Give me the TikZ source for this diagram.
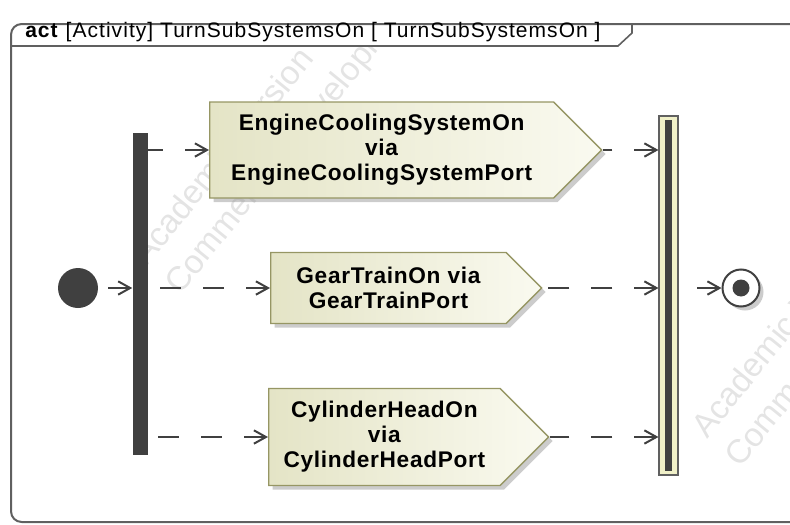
\documentclass[tikz,border=0pt]{standalone}
\usepackage{fontspec}
\setmainfont{Liberation Sans}
\newfontfamily\headfont{Liberation Sans}[LetterSpace=5]
\newfontfamily\actfont{Liberation Sans}[LetterSpace=3]
\definecolor{umlink}{RGB}{64,64,64}
\definecolor{umlframe}{RGB}{96,96,96}
\definecolor{umlolive}{RGB}{150,150,100}
\definecolor{umlbeige}{RGB}{228,228,198}
\definecolor{umlpale}{RGB}{250,250,240}
\definecolor{umlbar}{RGB}{240,240,200}
\definecolor{umlwater}{RGB}{228,228,228}
\usetikzlibrary{arrows.meta,shapes.symbols,shadows,calc}

\begin{document}
\begin{tikzpicture}[x=0.75pt,y=-0.75pt,
  sendsig/.style={signal,signal to=east,signal from=nowhere,signal pointer angle=90,
    draw=umlolive,line width=1pt,left color=umlbeige,right color=umlpale,
    drop shadow={shadow xshift=3pt,shadow yshift=-3pt,fill=black!40,opacity=.5},
    align=center,font=\actfont\bfseries\fontsize{17}{18.75}\selectfont,inner sep=0pt},
  flow/.style={draw=umlink,line width=1.5pt,dash pattern=on 15.75pt off 16.5pt,
    {Straight Barb[length=9pt,width=10pt]}-},
  watermark/.style={text=umlwater,font=\fontsize{25}{28}\selectfont,rotate=51,
    inner sep=0pt,anchor=base west}
]
  \useasboundingbox (0,0) rectangle (790,525);
  % tool watermark, kept inside the frame body
  \begin{scope}
    \clip (11,46) rectangle (790,522);
    \node[watermark] (wmla) at (147,267) {Academic Version};
    \node[watermark] (wmlb) at (180,296) {Commercial Development};
    \node[watermark] (wmra) at (707,440) {Academic Version};
    \node[watermark] (wmrb) at (740,469) {Commercial Development};
  \end{scope}

  % frame with name tab
  \draw[umlframe,line width=1.5pt,rounded corners=8pt] (805,24) -- (11,24) -- (11,522) -- (805,522);
  \draw[umlframe,line width=1.2pt] (11,46) -- (618,46) -- (632,33) -- (632,24);
  \node[anchor=base west,inner sep=0pt,font=\headfont\fontsize{15.75}{18}\selectfont] (title) at (25,37)
    {\textbf{act} [Activity] TurnSubSystemsOn [ TurnSubSystemsOn ]};

  % control nodes
  \node[circle,fill=umlink,minimum size=30pt,inner sep=0pt] (init) at (78,288) {};
  \node[fill=umlink,minimum width=11.25pt,minimum height=241.5pt,inner sep=0pt] (fork) at (140,294) {};
  \node[draw=umlframe,line width=.8pt,fill=umlbar,minimum width=14.25pt,minimum height=269.25pt,
    inner sep=0pt] (join) at (668.5,295.5) {};
  \node[fill=umlink,minimum width=5.25pt,minimum height=263.25pt,inner sep=0pt] (joincore) at (join.center) {};
  \node[circle,draw=umlink,line width=1.5pt,fill=white,minimum size=27.75pt,inner sep=0pt,
    drop shadow={shadow xshift=3pt,shadow yshift=-3pt,fill=black!40,opacity=.5}] (final) at (741,288) {};
  \node[circle,fill=umlink,minimum size=12.75pt,inner sep=0pt] (finaldot) at (final.center) {};

  % send signal actions
  \node[sendsig,minimum width=294pt,minimum height=72pt,anchor=west] (ecs) at (209,150)
    {EngineCoolingSystemOn\\via\\EngineCoolingSystemPort};
  \node[sendsig,minimum width=203.25pt,minimum height=53.25pt,anchor=west] (gear) at (270,288)
    {GearTrainOn via\\GearTrainPort};
  \node[sendsig,minimum width=210pt,minimum height=72.75pt,anchor=west] (cyl) at (268,437)
    {CylinderHeadOn\\via\\CylinderHeadPort};

  % flows
  \draw[flow] (fork.west |- init) -- (init);
  \draw[flow] (ecs.west) -- (ecs.west -| fork.east);
  \draw[flow] (gear.west) -- (gear.west -| fork.east);
  \draw[flow] (cyl.west) -- (cyl.west -| fork.east);
  \draw[flow] (join.west |- ecs.east) -- (ecs.east);
  \draw[flow] (join.west |- gear.east) -- (gear.east);
  \draw[flow] (join.west |- cyl.east) -- (cyl.east);
  \draw[flow] (final) -- (final -| join.east);
\end{tikzpicture}
\end{document}
